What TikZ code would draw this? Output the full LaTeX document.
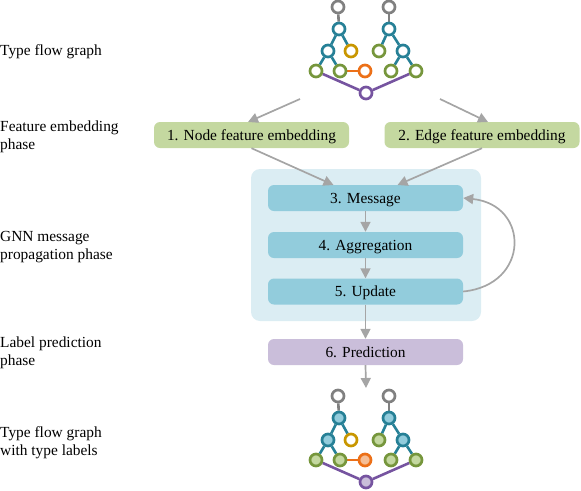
\documentclass[tikz,border=0pt]{standalone}
\usepackage{fontspec}
\setmainfont{Liberation Serif}
\usetikzlibrary{arrows.meta,backgrounds}
\definecolor{cgray}{RGB}{128,128,128}
\definecolor{cteal}{RGB}{38,128,150}
\definecolor{cochre}{RGB}{200,150,0}
\definecolor{cgreen}{RGB}{118,150,60}
\definecolor{corange}{RGB}{236,112,24}
\definecolor{cpurple}{RGB}{118,84,160}
\definecolor{lteal}{RGB}{146,204,220}
\definecolor{lgreen}{RGB}{196,216,160}
\definecolor{lpurple}{RGB}{202,190,218}
\definecolor{lorange}{RGB}{245,190,150}
\definecolor{panel}{RGB}{219,237,243}
\definecolor{arr}{RGB}{165,165,165}
\begin{document}
\begin{tikzpicture}[x=1pt,y=-1pt,
  every node/.style={font=\fontsize{15.4}{18.5}\selectfont},
  gn/.style={circle,draw=#1,line width=2.7pt,fill=white,minimum size=12pt,inner sep=0pt},
  ge/.style={draw=#1,line width=2.6pt},
  box/.style={rounded corners=6pt,minimum width=195pt,minimum height=26pt,inner sep=0pt,text height=10.3pt,text depth=0pt,fill=#1},
  lab/.style={anchor=base west,align=left,inner sep=0pt},
  ar/.style={draw=arr,line width=1.7pt,-{Triangle[length=10pt,width=10pt]}}]
\useasboundingbox (0,0) rectangle (581,490);

% labels (base = baseline of last line)
\node[lab] (l1) at (0,55) {Type flow graph};
\node[lab] (l2) at (0,149.5) {Feature embedding\\phase};
\node[lab] (l3) at (0,259.5) {GNN message\\propagation phase};
\node[lab] (l4) at (0,365.5) {Label prediction\\phase};
\node[lab] (l5) at (0,455.5) {Type flow graph\\with type labels};

% top graph
\node[gn=cgray] (a1) at (338,7) {};
\node[gn=cteal] (a2) at (339,29) {};
\node[gn=cteal] (a3) at (328,51) {};
\node[gn=cochre] (a4) at (351,51) {};
\node[gn=cgreen] (a5) at (316,71) {};
\node[gn=cgreen] (a6) at (340,71) {};
\node[gn=corange] (a7) at (365,71) {};
\node[gn=cpurple] (p) at (366,93) {};
\node[gn=cgray] (b1) at (389,7) {};
\node[gn=cteal] (b2) at (389,29) {};
\node[gn=cgreen] (b3) at (379,51) {};
\node[gn=cteal] (b4) at (403,51) {};
\node[gn=cgreen] (b5) at (391,71) {};
\node[gn=cgreen] (b6) at (416,71) {};

% bottom graph
\node[gn=cgray] (c1) at (338,396) {};
\node[gn=cteal,fill=lteal] (c2) at (339,418) {};
\node[gn=cteal,fill=lteal] (c3) at (328,440) {};
\node[gn=cochre] (c4) at (351,440) {};
\node[gn=cgreen,fill=lgreen] (c5) at (316,460) {};
\node[gn=cgreen,fill=lgreen] (c6) at (340,460) {};
\node[gn=corange,fill=lorange] (c7) at (365,460) {};
\node[gn=cpurple,fill=lpurple] (q) at (366,482) {};
\node[gn=cgray] (d1) at (389,396) {};
\node[gn=cteal,fill=lteal] (d2) at (389,418) {};
\node[gn=cgreen,fill=lgreen] (d3) at (379,440) {};
\node[gn=cteal,fill=lteal] (d4) at (403,440) {};
\node[gn=cgreen,fill=lgreen] (d5) at (391,460) {};
\node[gn=cgreen,fill=lgreen] (d6) at (416,460) {};

\begin{scope}[on background layer]
\foreach \s in {a,c} {
  \path[ge=cgray] (\s1) -- (\s2);
  \path[ge=cteal] (\s2) -- (\s3) (\s2) -- (\s4) (\s3) -- (\s5) (\s3) -- (\s6);
  \path[ge=corange] (\s6) -- (\s7);
}
\foreach \s in {b,d} {
  \path[ge=cgray] (\s1) -- (\s2);
  \path[ge=cteal] (\s2) -- (\s3) (\s2) -- (\s4) (\s4) -- (\s5) (\s4) -- (\s6);
}
\path[ge=cpurple] (a5) -- (p) -- (b6);
\path[ge=cpurple] (c5) -- (q) -- (d6);
\end{scope}

% panel
\node[fill=panel,rounded corners=9pt,minimum width=230pt,minimum height=152pt,inner sep=0pt] (panel) at (366,245) {};

% boxes
\node[box=lgreen] (n1) at (251.5,135) {1. Node feature embedding};
\node[box=lgreen] (n2) at (482,135) {2. Edge feature embedding};
\node[box=lteal] (m) at (365.5,198) {3. Message};
\node[box=lteal] (g) at (365.5,245) {4. Aggregation};
\node[box=lteal] (u) at (365.5,291.5) {5. Update};
\node[box=lpurple] (pr) at (365.5,352) {6. Prediction};

% arrows
\coordinate (s1) at (300,99);
\coordinate (s2) at (440,99);
\coordinate (t1) at (248,122);
\coordinate (t2) at (488,122);
\coordinate (e1) at (333.5,185);
\coordinate (e2) at (397.5,185);
\coordinate (f1) at (366,388);
\draw[ar] (s1) -- (t1);
\draw[ar] (s2) -- (t2);
\draw[ar] (n1.south) -- (e1);
\draw[ar] (n2.south) -- (e2);
\draw[ar] (m) -- (g);
\draw[ar] (g) -- (u);
\draw[ar] (u) -- (pr);
\draw[ar] (pr.south) -- (f1);
\draw[ar] (u.east) .. controls (530,285) and (530,205) .. (m.east);
\end{tikzpicture}
\end{document}
